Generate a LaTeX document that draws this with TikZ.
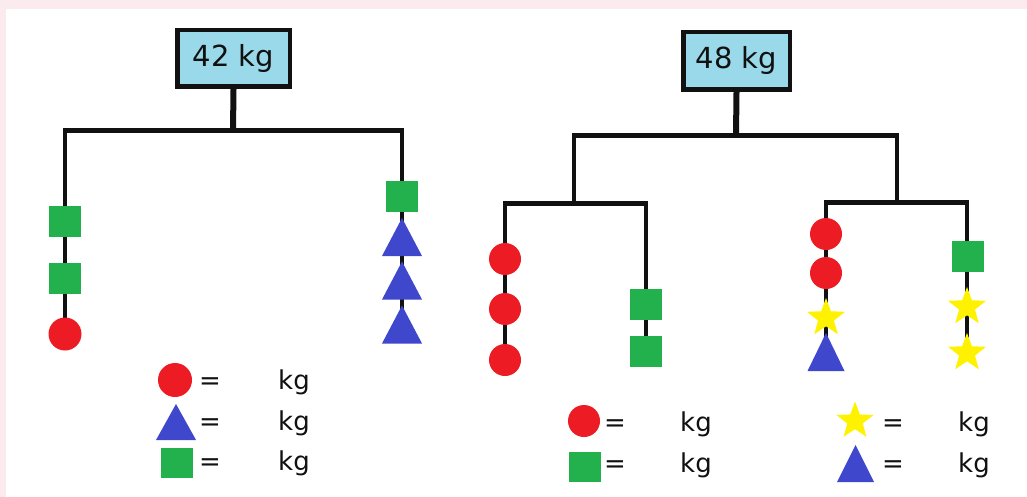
\documentclass[tikz,border=0pt]{standalone}
\usepackage{fontspec}
\setmainfont{DejaVu Sans}
\usetikzlibrary{shapes.geometric,calc}
\definecolor{pred}{HTML}{ED1C24}
\definecolor{pgreen}{HTML}{22B14C}
\definecolor{pblue}{HTML}{3F48CC}
\definecolor{pyellow}{HTML}{FFF200}
\definecolor{pbox}{HTML}{99D9EA}
\definecolor{paper}{HTML}{FCEBEE}
\definecolor{ink}{HTML}{111111}
\pgfdeclarelayer{paperlayer}
\pgfdeclarelayer{linelayer}
\pgfsetlayers{paperlayer,linelayer,main}
\tikzset{
  ball/.style={circle,fill=pred,minimum size=33pt,inner sep=0pt},
  block/.style={rectangle,fill=pgreen,minimum width=32pt,minimum height=31pt,inner sep=0pt},
  starw/.style={star,star points=5,star point ratio=2.4,fill=pyellow,minimum size=40pt,inner sep=0pt},
  wbox/.style={rectangle,draw=ink,line width=4.5pt,fill=pbox,inner sep=0pt,font=\fontsize{29}{34}\selectfont,text=ink},
  stem/.style={line width=6pt,draw=ink},
  bar/.style={line width=5pt,draw=ink},
  cord/.style={line width=4pt,draw=ink},
  lbl/.style={anchor=base,inner sep=0pt,font=\fontsize{26}{30}\selectfont,text=ink},
}
\newcommand\tri[5]{\coordinate (#1) at (#2,#3);
  \fill[pblue] ($(#1)+(0,-#5)$) -- ($(#1)+(#4,#5)$) -- ($(#1)+(-#4,#5)$) -- cycle;}
\begin{document}
\begin{tikzpicture}[x=1pt,y=-1pt]
\begin{pgfonlayer}{paperlayer}
  \fill[paper] (0,0) rectangle (1027,497);
  \fill[white] (6,9) rectangle (1027,497);
\end{pgfonlayer}
\useasboundingbox (0,0) rectangle (1027,497);

% ---------- left mobile ----------
\node[wbox,minimum width=112.5pt,minimum height=56.5pt] (b1) at (233.5,58.5) {42 kg};
\coordinate (j1) at (233,131);
\coordinate (bl1) at (63,131);
\coordinate (br1) at (404,131);
\coordinate (d1) at (65,131);
\coordinate (d2) at (402,131);
\node[block] (s1) at (65,221.5) {};
\node[block] (s2) at (65,278) {};
\node[ball] (c1) at (65,334) {};
\node[block] (s3) at (402,196.5) {};
\tri{t1}{402}{237}{20}{19}
\tri{t2}{402}{280.5}{20}{19}
\tri{t3}{402}{324.5}{20}{19}
\begin{pgfonlayer}{linelayer}
  \draw[stem] (b1.south) -- (j1);
  \draw[bar] (bl1) -- (br1);
  \draw[cord] (d1) -- (c1.center);
  \draw[cord] (d2) -- (t3);
\end{pgfonlayer}

% left legend
\node[ball,minimum size=34pt] (lc) at (175,380) {};
\tri{lt}{176}{422}{20}{18}
\node[block,minimum height=30pt] (ls) at (177,463) {};
\node[lbl] (le1) at (210,389) {=};
\node[lbl] (lk1) at (294,389) {kg};
\node[lbl] (le2) at (210,430) {=};
\node[lbl] (lk2) at (294,430) {kg};
\node[lbl] (le3) at (210,470) {=};
\node[lbl] (lk3) at (294,470) {kg};

% ---------- right mobile ----------
\node[wbox,minimum width=106.5pt,minimum height=57.5pt] (b2) at (736.5,61) {48 kg};
\coordinate (j2) at (736,136);
\coordinate (bl2) at (572,136);
\coordinate (br2) at (899,136);
\coordinate (p1) at (574,136);
\coordinate (p2) at (574,203);
\coordinate (p3) at (897,136);
\coordinate (p4) at (897,202);
\coordinate (ql1) at (503,203);
\coordinate (qr1) at (648,203);
\coordinate (ql2) at (824,202);
\coordinate (qr2) at (969,202);
\coordinate (e1) at (505,203);
\coordinate (e2) at (646,203);
\coordinate (e3) at (826,202);
\coordinate (e4) at (967,202);
% chain 1
\node[ball,minimum size=32pt] (rc1) at (505,259) {};
\node[ball,minimum size=32pt] (rc2) at (505,309) {};
\node[ball,minimum size=32pt] (rc3) at (505,360) {};
% chain 2
\node[block] (rs1) at (646,304.5) {};
\node[block] (rs2) at (646,351.5) {};
% chain 3
\node[ball,minimum size=32pt] (rc4) at (826,234) {};
\node[ball,minimum size=32pt] (rc5) at (826,273) {};
\node[starw] (st1) at (826,318) {};
\tri{t4}{826}{352}{18.5}{19}
% chain 4
\node[block] (rs3) at (967.5,256.5) {};
\node[starw] (st2) at (967,307) {};
\node[starw] (st3) at (967,353) {};
\begin{pgfonlayer}{linelayer}
  \draw[stem] (b2.south) -- (j2);
  \draw[bar] (bl2) -- (br2);
  \draw[cord] (p1) -- (p2);
  \draw[cord] (p3) -- (p4);
  \draw[bar] (ql1) -- (qr1);
  \draw[bar] (ql2) -- (qr2);
  \draw[cord] (e1) -- (rc3.center);
  \draw[cord] (e2) -- (rs2.center);
  \draw[cord] (e3) -- (t4);
  \draw[cord] (e4) -- (st3.center);
\end{pgfonlayer}

% right legends
\node[ball,minimum size=32pt] (mc) at (584,421) {};
\node[block,minimum height=30pt] (ms) at (585,467) {};
\node[lbl] (me1) at (615,431) {=};
\node[lbl] (mk1) at (696,431) {kg};
\node[lbl] (me2) at (615,472) {=};
\node[lbl] (mk2) at (696,472) {kg};
\node[starw,minimum size=39pt] (nst) at (855,421) {};
\tri{nt}{855.5}{463.5}{18.5}{18.5}
\node[lbl] (ne1) at (893,431) {=};
\node[lbl] (nk1) at (974,431) {kg};
\node[lbl] (ne2) at (893,472) {=};
\node[lbl] (nk2) at (974,472) {kg};
\end{tikzpicture}
\end{document}
